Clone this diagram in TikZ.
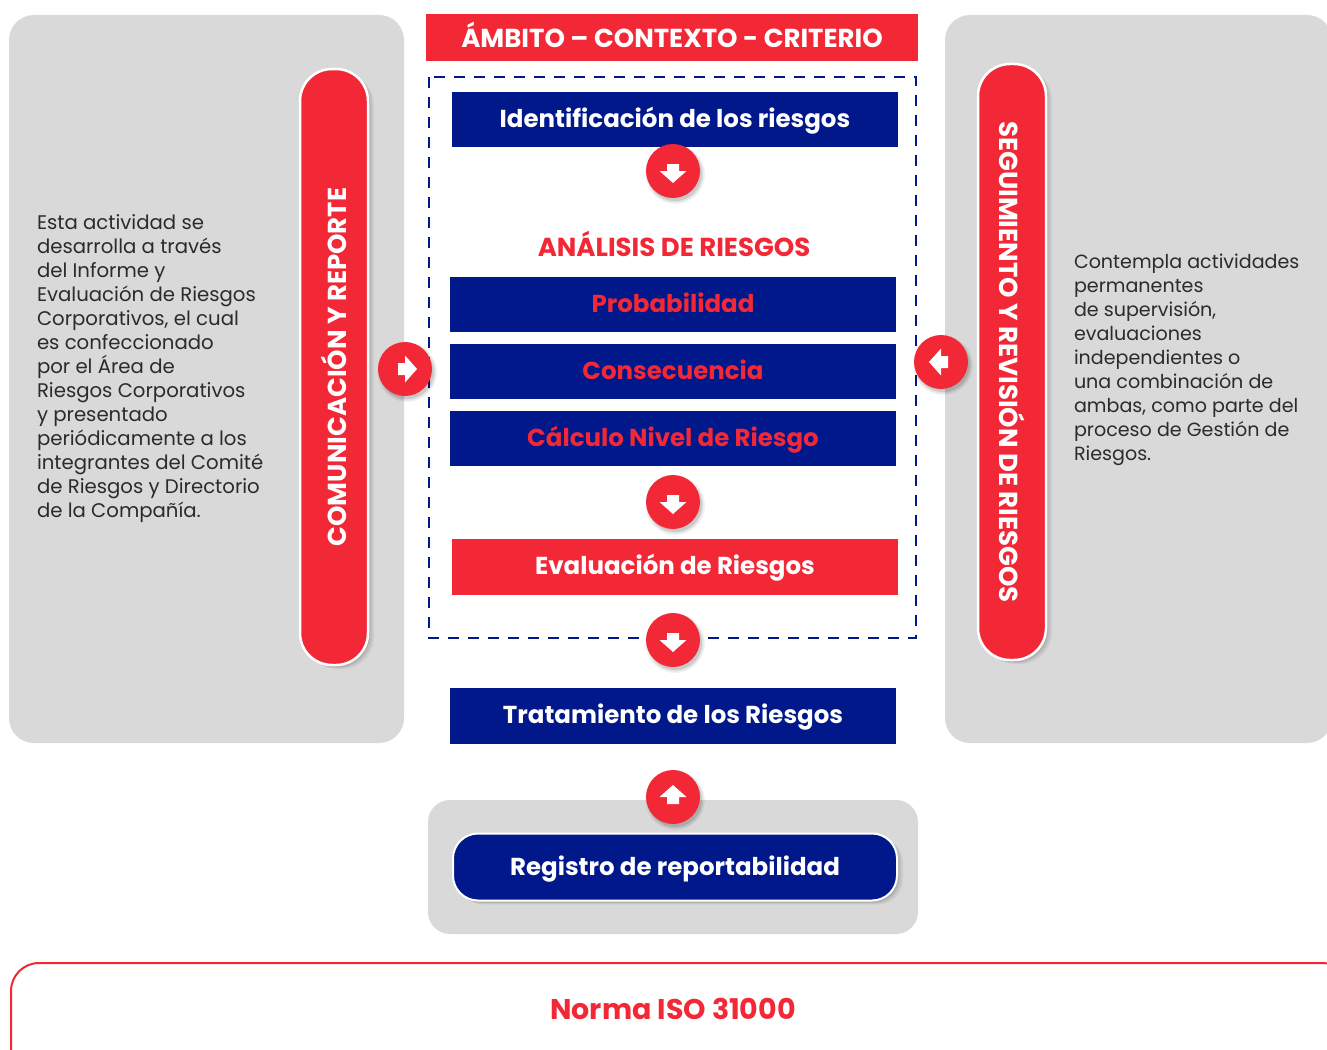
\documentclass[tikz,border=0pt]{standalone}
\usepackage{fontspec}
\setmainfont{Poppins}
\usetikzlibrary{shadows,calc}
\definecolor{rojo}{HTML}{F32837}
\definecolor{navy}{HTML}{00188A}
\definecolor{panel}{HTML}{D9D9D9}
\definecolor{txt}{HTML}{2B2B2B}
\begin{document}
\begin{tikzpicture}[x=1pt,y=-1pt,
  every node/.style={inner sep=0pt,outer sep=0pt},
  softshadow/.style={
    drop shadow={shadow xshift=2pt,shadow yshift=-3pt,shadow scale=1.10,opacity=0.05,fill=black},
    drop shadow={shadow xshift=2pt,shadow yshift=-3pt,shadow scale=1.05,opacity=0.07,fill=black},
    drop shadow={shadow xshift=2pt,shadow yshift=-3pt,shadow scale=1.0,opacity=0.10,fill=black}},
  pillshadow/.style={
    drop shadow={shadow xshift=6pt,shadow yshift=-4pt,opacity=0.05,fill=black},
    drop shadow={shadow xshift=4pt,shadow yshift=-3pt,opacity=0.07,fill=black},
    drop shadow={shadow xshift=2pt,shadow yshift=-2pt,opacity=0.09,fill=black}},
  boxfont/.style={font=\bfseries\fontsize{24.5}{28}\selectfont},
  capsfont/.style={font=\bfseries\fontsize{26}{30}\selectfont},
  navybox/.style={fill=navy,minimum width=446pt,minimum height=55pt,text=white,boxfont,text height=19pt,text depth=3pt},
  redbox/.style={fill=rojo,minimum width=446pt,minimum height=56pt,text=white,boxfont,text height=19pt,text depth=3pt},
  badge/.style={circle,fill=rojo,minimum size=54pt,softshadow},
  pill/.style={fill=rojo,draw=white,line width=2.5pt,rounded corners=32pt,minimum width=68pt,minimum height=596pt,pillshadow},
  pilltext/.style={text=white,capsfont},
  bodytext/.style={text=txt,align=left,font=\fontsize{19.7}{24}\selectfont},
  arrowglyph/.pic={\fill[white] (-6,-7) -- (6,-7) -- (6,0) -- (13.5,0) -- (0,12) -- (-13.5,0) -- (-6,0) -- cycle;}
]
\useasboundingbox (0,0) rectangle (1327,1049);
\clip (0,0) rectangle (1327,1049);

% side panels
\fill[panel,rounded corners=25pt] (9,15) rectangle (404,743);
\fill[panel,rounded corners=25pt] (945,15) rectangle (1332,743);

% pills
\node[pill] (com) at (334,367) {};
\node[pilltext,rotate=90] (comt) at (com.center) {COMUNICACIÓN Y REPORTE};
\node[pill] (seg) at (1012,362) {};
\node[pilltext,rotate=-90] (segt) at (seg.center) {SEGUIMIENTO Y REVISIÓN DE RIESGOS};

% side texts
\node[bodytext,anchor=north west] (ltext) at (37,215) {Esta actividad se\\desarrolla a través\\del Informe y\\Evaluación de Riesgos\\Corporativos, el cual\\es confeccionado\\por el Área de\\Riesgos Corporativos\\y presentado\\periódicamente a los\\integrantes del Comité\\de Riesgos y Directorio\\de la Compañía.};
\node[bodytext,font=\fontsize{19.1}{24}\selectfont,anchor=north west] (rtext) at (1074,254) {Contempla actividades\\permanentes\\de supervisión,\\evaluaciones\\independientes o\\una combinación de\\ambas, como parte del\\proceso de Gestión de\\Riesgos.};

% top bar
\node[fill=rojo,minimum width=492pt,minimum height=47pt,text=white,capsfont,text height=22pt,text depth=2pt] (amb) at (672,37.5) {ÁMBITO – CONTEXTO - CRITERIO};

% dashed frame
\draw[navy,line width=2.5pt,dash pattern=on 11pt off 9pt] (429,77) rectangle (916,638);

% boxes
\node[navybox] (ident) at (675,119) {Identificación de los riesgos};
\node[text=rojo,capsfont] (anal) at (674,244) {ANÁLISIS DE RIESGOS};
\node[navybox,text=rojo] (prob) at (673,304) {Probabilidad};
\node[navybox,text=rojo] (cons) at (673,371.5) {Consecuencia};
\node[navybox,text=rojo] (calc) at (673,438.5) {Cálculo Nivel de Riesgo};
\node[redbox] (eval) at (675,566.5) {Evaluación de Riesgos};
\node[navybox,minimum height=56pt] (trat) at (673,715.5) {Tratamiento de los Riesgos};

% bottom panel
\fill[panel,rounded corners=22pt] (428,800) rectangle (918,934);
\node[fill=navy,draw=white,line width=2pt,rounded corners=25pt,minimum width=444pt,minimum height=67pt,text=white,boxfont,text height=19pt,text depth=3pt,pillshadow] (reg) at (675,867) {Registro de reportabilidad};

% badges (arrows)
\node[badge] (b1) at (673,171) {};
\pic at (b1.center) {arrowglyph};
\node[badge] (b2) at (673,502) {};
\pic at (b2.center) {arrowglyph};
\node[badge] (b3) at (673,640) {};
\pic at (b3.center) {arrowglyph};
\node[badge] (b4) at (673,797) {};
\pic[rotate=180] at (b4.center) {arrowglyph};
\node[badge] (b5) at (405,369) {};
\pic[rotate=90] at (b5.center) {arrowglyph};
\node[badge] (b6) at (941,362) {};
\pic[rotate=-90] at (b6.center) {arrowglyph};

% bottom frame
\draw[rojo,line width=2pt,rounded corners=28pt] (11,1090) -- (11,963) -- (1350,963) -- (1350,1090);
\node[text=rojo,font=\bfseries\fontsize{28.5}{32}\selectfont] (iso) at (673,1009) {Norma ISO 31000};
\end{tikzpicture}
\end{document}
